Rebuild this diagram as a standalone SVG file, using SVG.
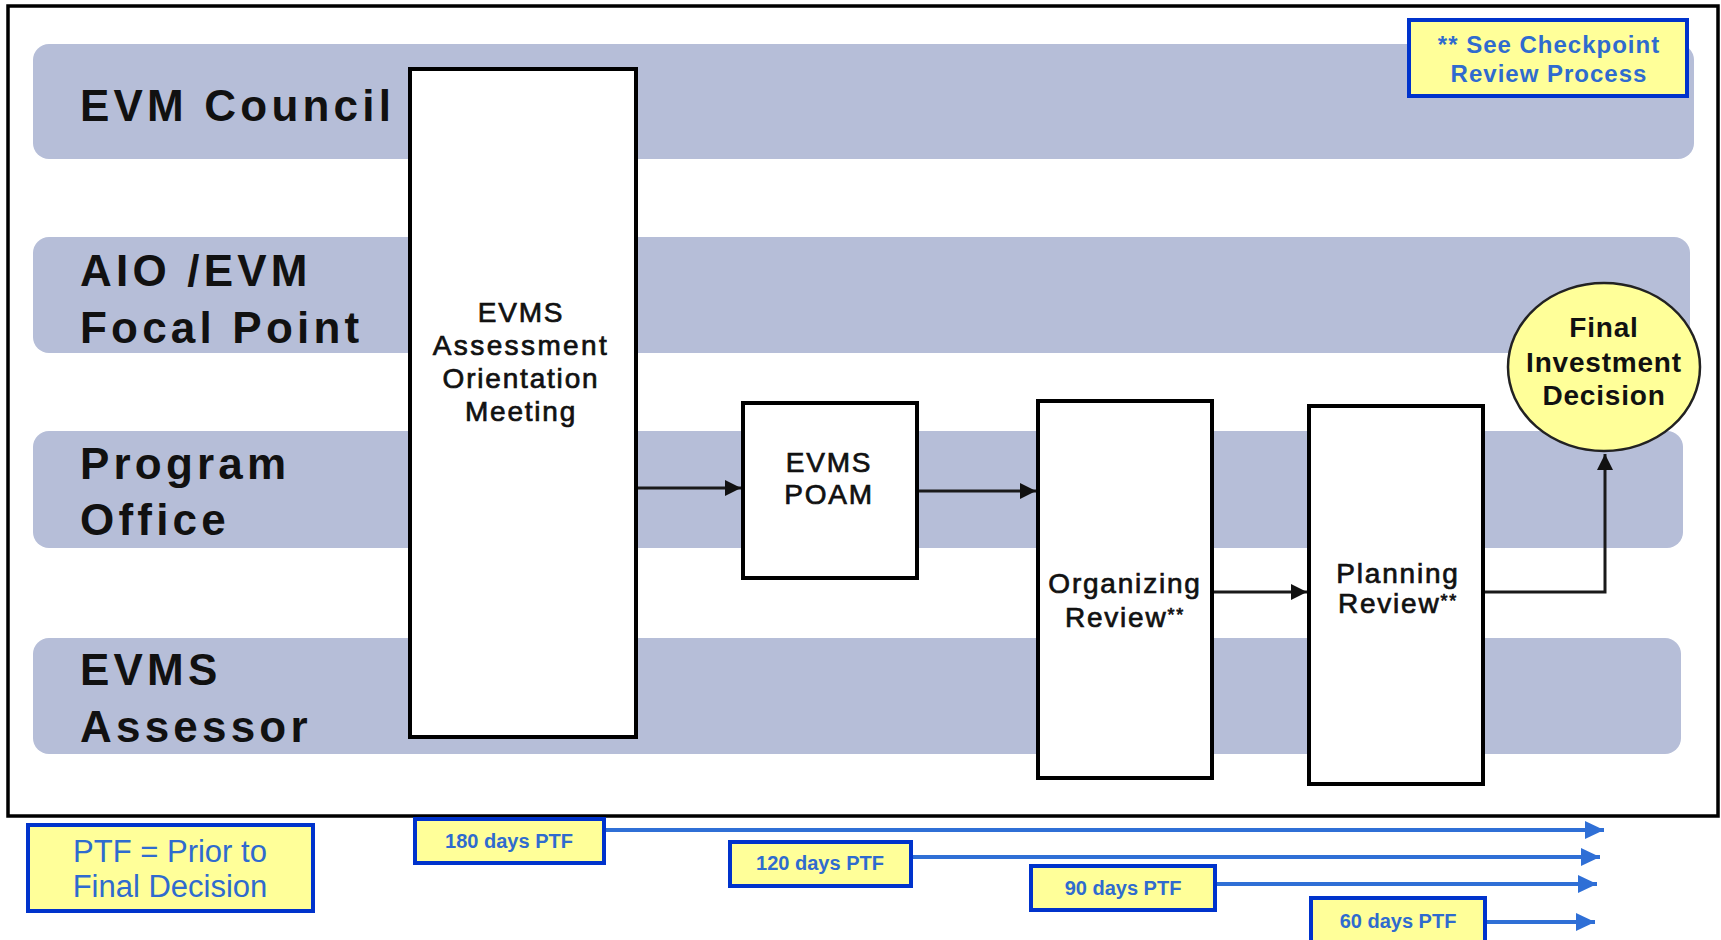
<svg xmlns="http://www.w3.org/2000/svg" width="1721" height="940" viewBox="0 0 1721 940">
<style>
.lane{fill:#B6BED8}
.lbl{font-family:"Liberation Sans",Arial,sans-serif;font-weight:bold;font-size:44px;letter-spacing:4.2px;fill:#111}
.box{fill:#fff;stroke:#000;stroke-width:4}
.bt{font-family:"Liberation Sans",Arial,sans-serif;font-size:28px;letter-spacing:1.8px;fill:#111;text-anchor:middle;stroke:#111;stroke-width:0.7}
.wide{letter-spacing:2.4px}
.sup{font-size:18px}
.note{fill:#FFFF99;stroke:#0033CC;stroke-width:4}
.nt{font-family:"Liberation Sans",Arial,sans-serif;fill:#2F6BCF;text-anchor:middle}
.conn{fill:none;stroke:#1a1a1a;stroke-width:3}
.bconn{fill:none;stroke:#2F6FD6;stroke-width:4}
</style>
<defs>
<marker id="ah" markerUnits="userSpaceOnUse" markerWidth="17" markerHeight="16" refX="16" refY="8" orient="auto">
<path d="M0,0 L16,8 L0,16 Z" fill="#111"/>
</marker>
<marker id="bah" markerUnits="userSpaceOnUse" markerWidth="20" markerHeight="18" refX="19" refY="9" orient="auto">
<path d="M0,0 L19,9 L0,18 Z" fill="#2F6FD6"/>
</marker>
</defs>
<rect x="0" y="0" width="1721" height="940" fill="#fff"/>
<rect id="frame" x="8" y="6" width="1710" height="810" fill="#fff" stroke="#000" stroke-width="3.5"/>
<g id="lanes">
<g id="lane-evm-council"><rect class="lane" x="33" y="44" width="1661" height="115" rx="16"/><text class="lbl" x="80" y="121">EVM Council</text></g>
<g id="lane-aio"><rect class="lane" x="33" y="237" width="1657" height="116" rx="16"/><text class="lbl" x="80" y="286">AIO /EVM</text><text class="lbl" x="80" y="343">Focal Point</text></g>
<g id="lane-program"><rect class="lane" x="33" y="431" width="1650" height="117" rx="16"/><text class="lbl" x="80" y="479">Program</text><text class="lbl" x="80" y="535">Office</text></g>
<g id="lane-assessor"><rect class="lane" x="33" y="638" width="1648" height="116" rx="16"/><text class="lbl" x="80" y="685">EVMS</text><text class="lbl" x="80" y="742">Assessor</text></g>
</g>
<g id="connectors">
<path class="conn" d="M636,488 L741,488" marker-end="url(#ah)"/>
<path class="conn" d="M917,491 L1036,491" marker-end="url(#ah)"/>
<path class="conn" d="M1212,592 L1307,592" marker-end="url(#ah)"/>
<path class="conn" d="M1483,592 L1605,592 L1605,454" marker-end="url(#ah)"/>
<path class="bconn" d="M604,830 L1604,830" marker-end="url(#bah)"/>
<path class="bconn" d="M911,857 L1600,857" marker-end="url(#bah)"/>
<path class="bconn" d="M1215,884 L1597,884" marker-end="url(#bah)"/>
<path class="bconn" d="M1485,922 L1595,922" marker-end="url(#bah)"/>
</g>
<g id="node-assessment">
<rect class="box" x="410" y="69" width="226" height="668"/>
<text class="bt" x="521" y="322">EVMS</text>
<text class="bt wide" x="521" y="355">Assessment</text>
<text class="bt" x="521" y="388">Orientation</text>
<text class="bt" x="521" y="421">Meeting</text>
</g>
<g id="node-poam">
<rect class="box" x="743" y="403" width="174" height="175"/>
<text class="bt" x="829" y="472">EVMS</text>
<text class="bt" x="829" y="504">POAM</text>
</g>
<g id="node-organizing">
<rect class="box" x="1038" y="401" width="174" height="377"/>
<text class="bt" x="1125" y="593">Organizing</text>
<text class="bt" x="1125" y="627">Review<tspan class="sup" dy="-6">**</tspan></text>
</g>
<g id="node-planning">
<rect class="box" x="1309" y="406" width="174" height="378"/>
<text class="bt" x="1398" y="583">Planning</text>
<text class="bt" x="1398" y="613">Review<tspan class="sup" dy="-6">**</tspan></text>
</g>
<g id="node-final">
<ellipse cx="1604" cy="367" rx="96" ry="84" fill="#FFFF99" stroke="#222" stroke-width="2.5"/>
<text class="bt" x="1604" y="337" style="font-weight:bold;font-size:28px;letter-spacing:0.8px;stroke-width:0">Final</text>
<text class="bt" x="1604" y="372" style="font-weight:bold;font-size:28px;letter-spacing:0.8px;stroke-width:0">Investment</text>
<text class="bt" x="1604" y="405" style="font-weight:bold;font-size:28px;letter-spacing:0.8px;stroke-width:0">Decision</text>
</g>
<g id="note-checkpoint">
<rect class="note" x="1409" y="20" width="278" height="76"/>
<text class="nt" x="1549" y="53" font-size="24" font-weight="bold" letter-spacing="1">** See Checkpoint</text>
<text class="nt" x="1549" y="82" font-size="24" font-weight="bold" letter-spacing="1">Review Process</text>
</g>
<g id="note-ptf">
<rect class="note" x="28" y="825" width="285" height="86"/>
<text class="nt" x="170" y="862" font-size="31">PTF = Prior to</text>
<text class="nt" x="170" y="897" font-size="31">Final Decision</text>
</g>
<g id="label-180">
<rect class="note" x="415" y="819" width="189" height="44"/>
<text class="nt" x="509" y="848" font-size="20" font-weight="bold">180 days PTF</text>
</g>
<g id="label-120">
<rect class="note" x="730" y="842" width="181" height="44"/>
<text class="nt" x="820" y="870" font-size="20" font-weight="bold">120 days PTF</text>
</g>
<g id="label-90">
<rect class="note" x="1031" y="866" width="184" height="44"/>
<text class="nt" x="1123" y="895" font-size="20" font-weight="bold">90 days PTF</text>
</g>
<g id="label-60">
<rect class="note" x="1311" y="898" width="174" height="46"/>
<text class="nt" x="1398" y="928" font-size="20" font-weight="bold">60 days PTF</text>
</g>
</svg>
